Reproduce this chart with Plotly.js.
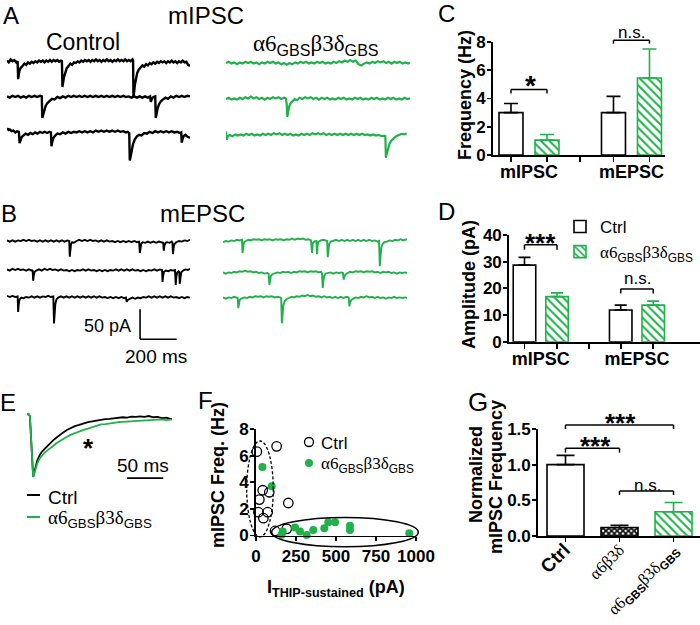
<!DOCTYPE html>
<html><head><meta charset="utf-8">
<script src="https://cdn.plot.ly/plotly-3.0.1.min.js"></script>
<style>html,body{margin:0;padding:0;background:#fff}#chart{width:700px;height:625px}</style>
</head><body><div id="chart"></div>
<script>
// ================= DATA =================
// Panel A (mIPSC traces): [time ms, current pA relative to row baseline]
const aCtrl1 = [[0,4],[10,1],[20,6],[30,3],[40,5],[50,1],[58,3],[61,-27],[64,-20],[68,-13],[75,-8],[85,-5],[95,-1],[105,-3],[115,1],[125,-1],[135,2],[145,0],[155,3],[165,1],[175,4],[185,2],[195,4],[205,1],[215,4],[225,2],[235,5],[245,2],[255,5],[265,3],[275,5],[285,2],[295,4],[300,3],[303,-40],[306,-34],[311,-24],[318,-15],[326,-9],[336,-5],[346,-1],[356,-3],[366,1],[376,0],[386,3],[396,1],[406,4],[416,2],[426,5],[436,3],[446,5],[456,2],[466,5],[476,3],[486,6],[496,3],[506,5],[516,2],[526,5],[536,3],[546,6],[556,3],[566,5],[576,2],[586,5],[596,3],[606,6],[616,3],[626,5],[636,3],[646,6],[656,3],[666,5],[676,3],[686,6],[689,4],[691,-57],[694,-50],[699,-36],[705,-24],[712,-16],[720,-11],[730,-7],[740,-4],[750,-6],[760,-2],[770,-4],[780,0],[790,-2],[800,1],[810,-1],[820,2],[830,0],[840,3],[850,1],[860,3],[870,0],[880,3],[890,1],[900,4],[910,1],[920,3],[930,0],[940,3],[950,1],[960,4],[970,1],[980,2],[990,-3],[1000,-5]];
const aCtrl2 = [[0,1],[15,-1],[30,2],[45,0],[60,2],[75,-1],[90,1],[105,-1],[120,2],[135,0],[150,2],[165,0],[180,2],[190,1],[193,-35],[197,-30],[203,-22],[211,-15],[221,-10],[233,-6],[246,-3],[260,-4],[275,0],[290,-2],[305,1],[320,-1],[335,2],[350,0],[365,2],[380,0],[395,2],[410,0],[425,2],[440,0],[455,2],[470,0],[485,2],[500,0],[515,2],[530,0],[545,2],[560,0],[575,2],[590,0],[605,2],[620,0],[635,2],[650,0],[665,1],[680,-1],[695,1],[710,-1],[725,1],[740,-1],[755,1],[770,-1],[782,1],[786,-8],[792,-3],[800,0],[810,1],[813,-35],[817,-28],[823,-19],[831,-12],[841,-7],[853,-4],[866,-1],[880,-3],[895,1],[910,-1],[925,2],[940,0],[955,2],[970,0],[985,2],[1000,1]];
const aCtrl3 = [[0,8],[8,5],[15,6],[25,3],[35,4],[45,1],[55,3],[65,2],[69,-17],[73,-12],[80,-7],[90,-4],[102,-1],[115,-3],[128,0],[141,-2],[154,1],[167,-1],[180,2],[193,0],[206,2],[219,0],[232,2],[240,1],[243,-22],[247,-15],[254,-8],[264,-4],[276,-1],[290,-2],[305,1],[320,-1],[335,2],[350,0],[365,2],[380,1],[395,3],[410,1],[425,3],[440,1],[455,3],[470,1],[485,4],[500,2],[515,4],[530,2],[545,4],[560,2],[575,4],[590,2],[605,4],[620,2],[635,3],[650,1],[660,2],[668,0],[671,-46],[675,-40],[681,-28],[689,-18],[698,-11],[709,-6],[721,-3],[735,-4],[750,0],[765,-1],[780,2],[795,0],[810,3],[825,1],[840,3],[855,1],[870,3],[885,1],[900,3],[915,1],[930,2],[945,0],[952,1],[955,-16],[959,-10],[966,-5],[975,-3],[985,-6],[1000,-8]];
const aGbs1 = [[0,0],[15,2],[30,-1],[45,1],[60,-2],[75,1],[90,-1],[105,2],[120,0],[135,2],[150,-1],[165,1],[180,-2],[195,1],[210,-1],[225,2],[240,0],[255,2],[270,-1],[285,1],[300,-2],[315,0],[330,-3],[345,0],[360,-2],[375,1],[390,-1],[405,2],[420,0],[435,2],[450,-1],[465,1],[480,-1],[495,2],[510,0],[525,2],[540,-1],[555,1],[570,-1],[585,2],[600,0],[615,3],[630,1],[645,4],[660,2],[675,5],[690,2],[705,4],[720,-2],[735,-4],[750,-1],[765,1],[780,-1],[795,2],[810,0],[825,3],[840,1],[855,3],[870,0],[885,2],[900,-1],[915,2],[930,0],[945,2],[960,-1],[975,1],[990,-1],[1000,1]];
const aGbs2 = [[0,0],[15,2],[30,-1],[45,1],[60,-1],[75,2],[90,0],[105,3],[120,1],[135,4],[150,1],[165,3],[180,0],[195,2],[210,-1],[225,2],[240,0],[255,3],[270,1],[285,3],[300,0],[315,2],[325,1],[330,-8],[333,-30],[337,-22],[343,-13],[351,-7],[361,-3],[373,0],[386,-2],[400,2],[415,0],[430,3],[445,1],[460,3],[475,0],[490,2],[505,-1],[520,2],[535,0],[550,2],[565,-1],[580,1],[595,-1],[610,2],[625,0],[640,2],[655,-1],[670,1],[685,-1],[700,2],[715,0],[730,2],[745,-1],[760,1],[775,-1],[790,2],[805,0],[820,2],[835,-1],[850,1],[865,-1],[880,2],[895,0],[910,2],[925,-1],[940,1],[955,-1],[970,2],[985,0],[1000,1]];
const aGbs3 = [[0,6],[4,-8],[10,-2],[20,0],[35,-2],[50,1],[65,-1],[80,1],[95,-1],[110,2],[125,0],[140,2],[155,-1],[170,1],[185,-1],[200,2],[215,0],[230,2],[245,0],[260,3],[275,1],[290,3],[305,0],[320,2],[335,0],[350,2],[365,-1],[380,1],[395,-1],[410,2],[425,0],[440,2],[455,0],[470,3],[485,1],[500,3],[515,1],[530,3],[545,0],[560,2],[575,0],[590,2],[605,0],[620,2],[635,0],[650,2],[665,0],[680,2],[695,0],[710,2],[725,0],[740,2],[755,0],[770,1],[785,-1],[800,1],[815,-1],[830,0],[845,-2],[860,-1],[866,-2],[869,-38],[873,-32],[879,-23],[887,-16],[897,-10],[910,-6],[925,-2],[940,0],[955,2],[970,1],[982,3]];
// Panel B (mEPSC traces)
const bCtrl1 = [[0,1],[15,-1],[30,1],[45,-1],[60,1],[75,0],[90,2],[105,0],[120,2],[135,0],[150,1],[165,-1],[180,1],[195,-1],[210,1],[225,-1],[240,1],[255,-1],[270,1],[285,-1],[300,1],[315,-1],[330,1],[340,0],[343,-26],[346,-14],[350,-5],[356,-2],[365,-3],[380,0],[395,2],[410,0],[425,2],[440,0],[455,2],[470,0],[485,1],[500,-1],[515,1],[530,-1],[545,1],[560,-1],[575,0],[590,-2],[605,0],[620,-2],[635,0],[650,-2],[665,0],[680,-2],[695,0],[710,-2],[722,-1],[726,-20],[729,-10],[734,-4],[742,-2],[755,-3],[770,-1],[785,-3],[800,-1],[815,-3],[830,-1],[845,-2],[853,-3],[857,-16],[860,-8],[866,-3],[875,-2],[888,-3],[900,-1],[904,-3],[907,-22],[910,-12],[915,-5],[925,-2],[940,0],[955,-1],[970,1],[985,0],[1000,2]];
const bCtrl2 = [[0,1],[15,-1],[30,2],[45,0],[60,2],[75,0],[90,1],[105,-1],[120,1],[135,-1],[140,0],[143,-18],[146,-9],[151,-3],[160,-1],[175,1],[190,-1],[205,2],[220,0],[235,2],[250,0],[265,1],[280,-1],[295,1],[310,-1],[325,0],[340,-2],[355,0],[370,-2],[385,0],[400,-1],[415,1],[430,-1],[445,1],[460,-1],[475,0],[490,-2],[505,0],[520,-2],[535,0],[550,-2],[565,0],[580,-1],[595,1],[610,-1],[625,1],[640,-1],[655,1],[670,-1],[685,1],[700,-1],[715,0],[730,-2],[745,0],[760,-2],[775,0],[790,-1],[805,1],[820,-1],[835,1],[847,0],[850,-20],[853,-10],[858,-3],[868,-1],[882,-2],[895,0],[908,-1],[918,0],[922,-25],[925,-12],[930,-4],[937,-2],[941,-3],[944,-23],[947,-11],[952,-4],[962,-1],[975,1],[988,0],[1000,2]];
const bCtrl3 = [[0,2],[15,0],[30,2],[45,0],[58,1],[61,-25],[64,-12],[69,-4],[78,-1],[90,-2],[105,0],[120,-1],[135,1],[150,-1],[165,1],[180,-1],[195,1],[210,0],[225,2],[240,0],[253,1],[257,-44],[260,-30],[264,-12],[270,-4],[280,-1],[295,1],[310,-1],[325,1],[340,-1],[355,1],[370,-1],[385,1],[400,-1],[415,1],[430,-1],[445,1],[460,-1],[475,1],[490,-1],[505,1],[520,-1],[535,0],[550,-2],[565,0],[580,-2],[595,0],[610,-2],[625,0],[640,-2],[650,-1],[654,-8],[660,-5],[670,-3],[685,-1],[700,-3],[715,-1],[730,-2],[745,0],[760,-1],[775,1],[790,-1],[805,1],[820,-1],[835,1],[850,-1],[865,1],[880,-1],[895,1],[910,-1],[925,0],[940,-2],[955,0],[970,-2],[985,0],[1000,-1]];
const bGbs1 = [[0,-2],[15,0],[30,-1],[45,1],[60,0],[75,2],[90,1],[103,2],[106,-20],[109,-9],[114,-2],[124,0],[138,2],[152,1],[166,3],[180,2],[195,3],[210,1],[225,3],[240,2],[255,3],[270,1],[285,3],[300,2],[315,3],[330,1],[345,3],[360,2],[375,4],[390,2],[405,4],[420,3],[435,4],[450,2],[465,3],[478,1],[484,-20],[488,-4],[495,-1],[508,0],[511,-22],[514,-6],[520,-1],[532,1],[545,2],[558,1],[566,0],[569,-27],[572,-14],[577,-5],[586,-1],[600,0],[615,2],[630,0],[645,2],[660,0],[675,2],[690,0],[705,2],[720,0],[735,2],[750,0],[765,2],[780,0],[795,2],[810,0],[825,1],[840,-1],[848,0],[852,-42],[855,-28],[860,-12],[867,-5],[877,-2],[890,-1],[905,1],[920,0],[935,2],[950,1],[965,3],[980,1],[995,3],[1000,3]];
const bGbs2 = [[0,1],[15,-1],[30,1],[45,0],[60,2],[75,1],[90,3],[105,2],[120,4],[135,2],[150,3],[165,1],[180,2],[195,0],[210,1],[225,-1],[240,0],[248,-1],[252,-20],[255,-12],[260,-5],[268,-2],[280,-1],[295,1],[310,0],[325,2],[340,1],[355,2],[370,0],[385,2],[400,1],[415,3],[430,2],[445,3],[460,1],[475,3],[490,2],[505,3],[520,1],[533,2],[538,0],[542,-25],[545,-14],[550,-5],[558,-1],[570,0],[585,1],[600,-1],[615,1],[630,0],[645,1],[652,0],[656,-11],[660,-6],[667,-2],[678,0],[690,2],[705,1],[720,3],[735,2],[750,3],[765,1],[780,3],[795,2],[810,3],[825,1],[840,2],[855,0],[870,2],[885,1],[900,2],[915,0],[930,1],[945,-1],[960,1],[975,0],[990,1],[1000,0]];
const bGbs3 = [[0,1],[15,-1],[30,1],[45,0],[60,2],[75,1],[80,0],[83,-17],[86,-9],[91,-3],[100,-1],[115,1],[130,0],[145,2],[160,1],[175,3],[190,2],[205,3],[220,1],[235,3],[250,2],[265,3],[280,1],[295,2],[310,1],[316,0],[320,-42],[323,-28],[328,-12],[335,-5],[345,-2],[358,0],[372,2],[386,1],[400,3],[415,2],[430,4],[445,3],[460,5],[475,3],[490,4],[505,2],[520,3],[535,1],[550,3],[565,1],[580,2],[595,0],[610,2],[625,0],[640,2],[655,0],[670,2],[683,1],[687,-14],[691,-7],[698,-3],[708,-1],[720,1],[735,0],[750,2],[765,1],[780,3],[795,1],[810,2],[825,0],[840,2],[855,0],[870,1],[885,-1],[900,1],[915,0],[930,2],[945,0],[960,1],[975,0],[990,1],[1000,0]];
const scaleBarPA = 50, scaleBarMs = 200;
// Panel E: averaged normalized mIPSC [ms, normalized amplitude]
const eCtrl = [[0,0.01],[2,0.02],[4,-0.02],[6,-0.5],[8.5,-1.0],[10,-0.93],[12,-0.82],[14,-0.74],[17,-0.66],[20,-0.6],[24,-0.55],[28,-0.5],[32,-0.46],[36,-0.41],[40,-0.37],[45,-0.32],[50,-0.28],[55,-0.24],[60,-0.21],[66,-0.18],[72,-0.16],[78,-0.135],[84,-0.115],[90,-0.1],[96,-0.085],[102,-0.075],[108,-0.065],[114,-0.06],[120,-0.05],[126,-0.05],[132,-0.035],[138,-0.04],[144,-0.025],[150,-0.03],[156,-0.02],[162,-0.03],[168,-0.015],[174,-0.035],[180,-0.03],[186,-0.05],[192,-0.04],[198,-0.06],[200,-0.06]];
const eGbs = [[0,0.01],[2,0.02],[4,-0.02],[6,-0.5],[8.5,-1.0],[10,-0.95],[12,-0.86],[14,-0.79],[17,-0.71],[20,-0.66],[24,-0.61],[28,-0.57],[32,-0.54],[36,-0.5],[40,-0.46],[45,-0.42],[50,-0.38],[55,-0.35],[60,-0.32],[66,-0.29],[72,-0.27],[78,-0.24],[84,-0.22],[90,-0.2],[96,-0.17],[102,-0.15],[108,-0.145],[114,-0.13],[120,-0.125],[126,-0.115],[132,-0.11],[138,-0.1],[144,-0.095],[150,-0.09],[156,-0.085],[162,-0.08],[168,-0.075],[174,-0.07],[180,-0.075],[186,-0.07],[192,-0.08],[198,-0.075],[200,-0.07]];
const scaleBarE = 50;
// Panel C: frequency (Hz)
const barCats = ['mIPSC', 'mEPSC'];
const freqCtrl = [3.0, 3.0];
const freqCtrlErr = [0.65, 1.15];
const freqGbs = [1.05, 5.45];
const freqGbsErr = [0.4, 2.05];
// Panel D: amplitude (pA)
const ampCtrl = [28.7, 11.9];
const ampCtrlErr = [2.9, 1.8];
const ampGbs = [16.9, 13.7];
const ampGbsErr = [1.4, 1.5];
// Panel F: I_THIP-sustained (pA) vs mIPSC freq (Hz)
const fCtrlI = [5, 129, 42, 83, 21, 202, 15, 73, 46, 119, 192];
const fCtrlF = [6.3, 6.7, 3.4, 3.25, 2.7, 2.44, 1.75, 1.75, 1.3, 0.34, 0.5];
const fGbsI = [40, 98, 167, 160, 244, 275, 317, 358, 427, 452, 494, 587, 587, 958];
const fGbsF = [5.15, 3.7, 0.3, 0.06, 0.6, 0.3, 0.04, 0.42, 0.55, 1.0, 1.0, 0.74, 0.42, 0.17];
const dashedEllipseI = [-58, 108], dashedEllipseF = [-0.1, 7.1];
const solidEllipseI = [98, 1014], solidEllipseF = [-0.85, 1.35];
// Panel G: normalized mIPSC frequency
const normCats = ['Ctrl', 'a6b3d', 'a6GBSb3dGBS'];
const normVals = [1.0, 0.12, 0.34];
const normErr = [0.13, 0.03, 0.13];

// ================= STYLE / LAYOUT =================
const W = 700, H = 625;
const BLACK = '#000000', GREEN = '#1fb24a';
const SANS = 'Liberation Sans, Arial, sans-serif';
const SERIFSPAN = "font-family:'Liberation Serif'";
const SANSSPAN = "font-family:'Liberation Sans'";
function gbsLabel(boldSub) {
  const s = boldSub ? '<b>GBS</b>' : 'GBS';
  return '<span style="' + SERIFSPAN + '">α6</span><sub><span style="' + SANSSPAN + '">' + s + '</span></sub>' +
         '<span style="' + SERIFSPAN + '">β3δ</span><sub><span style="' + SANSSPAN + '">' + s + '</span></sub>';
}
const xd = (a, b) => [a / W, b / W];
const yd = (top, bottom) => [1 - bottom / H, 1 - top / H];
const BOLD = (size) => ({family: SANS, size: size, color: BLACK, weight: 'bold'});
const REG = (size) => ({family: SANS, size: size, color: BLACK});

const layout = {
  width: W, height: H, margin: {l: 0, r: 0, t: 0, b: 0},
  paper_bgcolor: 'white', plot_bgcolor: 'rgba(0,0,0,0)',
  font: {family: SANS, color: BLACK}, barmode: 'overlay', showlegend: true,
  annotations: [], shapes: [],
  legend2: {x: 560 / W, y: 1 - 209 / H, xanchor: 'left', yanchor: 'top', bgcolor: 'rgba(0,0,0,0)',
            font: REG(17), itemwidth: 30, tracegroupgap: 0, traceorder: 'normal'}
};
const hidden = (o) => Object.assign({visible: false, fixedrange: true, showgrid: false, zeroline: false}, o);
const axKey = (n) => n.replace(/^([xy])/, '$1axis');
const data = [];

// ---- Panels A & B traces ----
const rowRange = [-75, 15]; // pA; 0.6 px per pA
layout.xaxis = hidden({domain: xd(7, 190), range: [0, 1000], anchor: 'y'});
layout.xaxis2 = hidden({domain: xd(226, 410), range: [0, 1000], anchor: 'y4'});
layout.xaxis3 = hidden({domain: xd(223, 407), range: [0, 1000], anchor: 'y10'});
const traceRows = [
  {d: aCtrl1, xa: 'x', ya: 'y', base: 63, color: BLACK, w: 2.4},
  {d: aCtrl2, xa: 'x', ya: 'y2', base: 97, color: BLACK, w: 2.4},
  {d: aCtrl3, xa: 'x', ya: 'y3', base: 133, color: BLACK, w: 2.4},
  {d: aGbs1, xa: 'x2', ya: 'y4', base: 63, color: GREEN, w: 2.2},
  {d: aGbs2, xa: 'x2', ya: 'y5', base: 99, color: GREEN, w: 2.2},
  {d: aGbs3, xa: 'x2', ya: 'y6', base: 135, color: GREEN, w: 2.2},
  {d: bCtrl1, xa: 'x', ya: 'y7', base: 241, color: BLACK, w: 1.9},
  {d: bCtrl2, xa: 'x', ya: 'y8', base: 270, color: BLACK, w: 1.9},
  {d: bCtrl3, xa: 'x', ya: 'y9', base: 297, color: BLACK, w: 1.9},
  {d: bGbs1, xa: 'x3', ya: 'y10', base: 241, color: GREEN, w: 1.9},
  {d: bGbs2, xa: 'x3', ya: 'y11', base: 273, color: GREEN, w: 1.9},
  {d: bGbs3, xa: 'x3', ya: 'y12', base: 298, color: GREEN, w: 1.9}
];
traceRows.forEach(r => {
  layout[axKey(r.ya)] = hidden({domain: yd(r.base - 9, r.base + 45), range: rowRange, anchor: r.xa});
  data.push({type: 'scatter', mode: 'lines', x: r.d.map(p => p[0]), y: r.d.map(p => p[1]),
    xaxis: r.xa, yaxis: r.ya, line: {color: r.color, width: r.w}, showlegend: false, hoverinfo: 'skip'});
});
// scale bar (50 pA / 200 ms) on the black traces' axes, bottom row
const sbX = 727, sbY = -70.5;
layout.shapes.push({type: 'line', xref: 'x', yref: 'y9', x0: sbX, x1: sbX, y0: sbY, y1: sbY + scaleBarPA, line: {color: BLACK, width: 1.6}});
layout.shapes.push({type: 'line', xref: 'x', yref: 'y9', x0: sbX, x1: sbX + scaleBarMs, y0: sbY, y1: sbY, line: {color: BLACK, width: 1.6}});

// ---- Panel E ----
layout.xaxis4 = hidden({domain: xd(27, 172), range: [0, 200], anchor: 'y13'});
layout.yaxis13 = hidden({domain: yd(412, 480), range: [-1.05, 0.05], anchor: 'x4'});
data.push({type: 'scatter', mode: 'lines', x: eCtrl.map(p => p[0]), y: eCtrl.map(p => p[1]), xaxis: 'x4', yaxis: 'y13', line: {color: BLACK, width: 1.8}, showlegend: false});
data.push({type: 'scatter', mode: 'lines', x: eGbs.map(p => p[0]), y: eGbs.map(p => p[1]), xaxis: 'x4', yaxis: 'y13', line: {color: GREEN, width: 1.8}, showlegend: false});
layout.shapes.push({type: 'line', xref: 'x4', yref: 'y13', x0: 138, x1: 138 + scaleBarE, y0: -1.02, y1: -1.02, line: {color: BLACK, width: 1.6}});

// ---- bar axis helpers ----
function barY(domain, range, tickvals, fmt) {
  return {domain: domain, range: range, showline: true, linecolor: BLACK, linewidth: 1.8, ticks: 'outside', ticklen: 4, tickwidth: 1.8,
    tickcolor: BLACK, tickmode: 'array', tickvals: tickvals, tickformat: fmt || '', tickfont: BOLD(17), ticklabelstandoff: -2,
    showgrid: false, zeroline: false, fixedrange: true};
}
function groupedBars(xa, ya, ctrl, ctrlErr, gbs, gbsErr, geom, legendOn, capW) {
  const idx = barCats.map((c, i) => i);
  data.push({type: 'bar', x: idx, y: ctrl, xaxis: xa, yaxis: ya, width: geom.w, offset: -geom.s - geom.w / 2,
    marker: {color: 'white', line: {color: BLACK, width: 1.6}},
    error_y: {type: 'data', symmetric: false, array: ctrlErr, arrayminus: ctrl.map(() => 0), color: BLACK, thickness: 1.6, width: capW},
    name: 'Ctrl', legend: 'legend2', showlegend: legendOn, hoverinfo: 'skip'});
  data.push({type: 'bar', x: idx, y: gbs, xaxis: xa, yaxis: ya, width: geom.w, offset: geom.s - geom.w / 2,
    marker: {color: 'white', pattern: {shape: '\\', fgcolor: GREEN, bgcolor: 'white', size: 6, solidity: 0.35, fillmode: 'replace'}, line: {color: GREEN, width: 1.6}},
    error_y: {type: 'data', symmetric: false, array: gbsErr, arrayminus: gbs.map(() => 0), color: GREEN, thickness: 1.6, width: capW},
    name: gbsLabel(false), legend: 'legend2', showlegend: legendOn, hoverinfo: 'skip'});
}
function barX(domain, range, anchor, geom) {
  const idx = barCats.map((c, i) => i);
  const minorVals = [];
  idx.forEach(i => { minorVals.push(i - geom.s, i + geom.s); if (i < idx.length - 1) minorVals.push(i + 0.5); });
  return {domain: domain, range: range, anchor: anchor, showline: true, linecolor: BLACK, linewidth: 1.8,
    tickmode: 'array', tickvals: idx, ticktext: barCats, ticks: '', tickfont: BOLD(18),
    minor: {tickmode: 'array', tickvals: minorVals, ticks: 'outside', ticklen: 5, tickwidth: 1.8, tickcolor: BLACK, showgrid: false},
    showgrid: false, zeroline: false, fixedrange: true};
}
function frac(v, range) { return (v - range[0]) / (range[1] - range[0]); }
function bracket(xa, ya, yrange, x0, x1, yTop, yLeg) {
  const yr = ya + ' domain', st = {color: BLACK, width: 1.5};
  const t = frac(yTop, yrange), l = frac(yLeg, yrange);
  layout.shapes.push({type: 'line', xref: xa, yref: yr, x0: x0, x1: x1, y0: t, y1: t, line: st});
  layout.shapes.push({type: 'line', xref: xa, yref: yr, x0: x0, x1: x0, y0: t, y1: l, line: st});
  layout.shapes.push({type: 'line', xref: xa, yref: yr, x0: x1, x1: x1, y0: t, y1: l, line: st});
}

// ---- Panel C ----
const geomC = {w: 0.234, s: 0.1756};
const rangeCy = [0, 8];
layout.xaxis5 = barX(xd(493, 665), [-0.351, 1.327], 'y14', geomC);
layout.yaxis14 = Object.assign(barY(yd(42, 155), rangeCy, [0, 2, 4, 6, 8]), {anchor: 'x5'});
groupedBars('x5', 'y14', freqCtrl, freqCtrlErr, freqGbs, freqGbsErr, geomC, false, 7);
bracket('x5', 'y14', rangeCy, -geomC.s, geomC.s, 4.64, 4.36);
bracket('x5', 'y14', rangeCy, 1 - geomC.s, 1 + geomC.s, 8.12, 7.88);

// ---- Panel D ----
const geomD = {w: 0.234, s: 0.169};
const rangeDy = [0, 40];
layout.xaxis6 = barX(xd(509, 700), [-0.33, 1.655], 'y15', geomD);
layout.yaxis15 = Object.assign(barY(yd(235, 341.7), rangeDy, [0, 10, 20, 30, 40]), {anchor: 'x6'});
groupedBars('x6', 'y15', ampCtrl, ampCtrlErr, ampGbs, ampGbsErr, geomD, true, 6);
bracket('x6', 'y15', rangeDy, -geomD.s, geomD.s, 36.3, 34.5);
bracket('x6', 'y15', rangeDy, 1 - geomD.s, 1 + geomD.s, 19.8, 18.1);

// ---- Panel F ----
const rangeFx = [0, 1000], rangeFy = [0, 8];
layout.xaxis7 = {domain: xd(256, 416), range: rangeFx, anchor: 'y16', showline: true, linecolor: BLACK, linewidth: 1.8,
  ticks: 'outside', ticklen: 4, tickwidth: 1.8, tickcolor: BLACK, tickmode: 'array', tickvals: [0, 250, 500, 750, 1000],
  tickfont: BOLD(17), showgrid: false, zeroline: false, fixedrange: true};
layout.yaxis16 = Object.assign(barY(yd(429, 535.5), rangeFy, [0, 2, 4, 6, 8]), {anchor: 'x7'});
data.push({type: 'scatter', mode: 'markers', x: fCtrlI, y: fCtrlF, xaxis: 'x7', yaxis: 'y16', cliponaxis: false,
  marker: {symbol: 'circle-open', size: 9.5, color: BLACK, line: {width: 1.3, color: BLACK}}, showlegend: false});
data.push({type: 'scatter', mode: 'markers', x: fGbsI, y: fGbsF, xaxis: 'x7', yaxis: 'y16', cliponaxis: false,
  marker: {symbol: 'circle', size: 8, color: GREEN}, showlegend: false});
layout.shapes.push({type: 'circle', xref: 'x7 domain', yref: 'y16 domain',
  x0: frac(dashedEllipseI[0], rangeFx), x1: frac(dashedEllipseI[1], rangeFx), y0: frac(dashedEllipseF[0], rangeFy), y1: frac(dashedEllipseF[1], rangeFy),
  line: {color: BLACK, width: 1.3, dash: '3px,2px'}});
layout.shapes.push({type: 'circle', xref: 'x7 domain', yref: 'y16 domain',
  x0: frac(solidEllipseI[0], rangeFx), x1: frac(solidEllipseI[1], rangeFx), y0: frac(solidEllipseF[0], rangeFy), y1: frac(solidEllipseF[1], rangeFy),
  line: {color: BLACK, width: 1.5}});

// ---- Panel G ----
const rangeGy = [0, 1.5];
const normLabels = ['<span style="font-size:19px"><b>Ctrl</b></span>', '<span style="' + SERIFSPAN + '">α6β3δ</span>', gbsLabel(true)];
layout.xaxis8 = {domain: xd(538, 700), range: [-0.509, 2.49], anchor: 'y17', type: 'category', categoryorder: 'array', categoryarray: normCats,
  showline: true, linecolor: BLACK, linewidth: 1.8, ticks: 'outside', ticklen: 4, tickwidth: 1.8, tickcolor: BLACK,
  tickmode: 'array', tickvals: normCats, ticktext: normLabels, tickangle: -45, tickfont: REG(16.5), ticklabelstandoff: -8,
  showgrid: false, zeroline: false, fixedrange: true};
layout.yaxis17 = Object.assign(barY(yd(429, 536), rangeGy, [0, 0.5, 1, 1.5], '.1f'), {anchor: 'x8'});
const gStyles = [
  {color: 'white', line: {color: BLACK, width: 1.6}},
  {color: 'white', pattern: {shape: 'x', fgcolor: '#111111', bgcolor: 'white', size: 4, solidity: 0.7, fillmode: 'replace'}, line: {color: BLACK, width: 1.6}},
  {color: 'white', pattern: {shape: '\\', fgcolor: GREEN, bgcolor: 'white', size: 6, solidity: 0.35, fillmode: 'replace'}, line: {color: GREEN, width: 1.6}}
];
const gErrColor = [BLACK, BLACK, GREEN];
normCats.forEach((c, i) => {
  data.push({type: 'bar', x: [c], y: [normVals[i]], xaxis: 'x8', yaxis: 'y17', width: 0.685, offset: -0.3425,
    marker: gStyles[i], error_y: {type: 'data', symmetric: false, array: [normErr[i]], arrayminus: [0], color: gErrColor[i], thickness: 1.6, width: 9},
    showlegend: false, hoverinfo: 'skip'});
});
bracket('x8', 'y17', rangeGy, 0, 2, 1.556, 1.5);
bracket('x8', 'y17', rangeGy, 0, 1, 1.23, 1.17);
bracket('x8', 'y17', rangeGy, 1, 2, 0.63, 0.575);

// ---- text annotations (positions in page pixels) ----
function ann(text, x, y, font, extra) {
  layout.annotations.push(Object.assign({text: text, x: x / W, y: 1 - y / H, xref: 'paper', yref: 'paper', showarrow: false,
    font: font, xanchor: 'center', yanchor: 'middle'}, extra || {}));
}
ann('A', 11, 15, REG(24)); ann('mIPSC', 206, 15, REG(24));
ann('Control', 83, 42, REG(23)); ann(gbsLabel(false), 316, 45, REG(23));
ann('B', 9, 213, REG(24)); ann('mEPSC', 202, 213, REG(24));
ann('50 pA', 107, 326, REG(18)); ann('200 ms', 156, 356, REG(19));
ann('C', 446, 13, REG(24)); ann('D', 446, 212, REG(24));
ann('E', 8, 402, REG(24)); ann('F', 205, 401, REG(24)); ann('G', 478, 402, REG(26));
ann('*', 88, 448, BOLD(26)); ann('50 ms', 143, 465, REG(19));
ann('Ctrl', 46, 497, REG(19), {xanchor: 'left'}); ann(gbsLabel(false), 46, 519, REG(19), {xanchor: 'left'});
layout.shapes.push({type: 'line', xref: 'paper', yref: 'paper', x0: 27 / W, x1: 40 / W, y0: 1 - 495 / H, y1: 1 - 495 / H, line: {color: BLACK, width: 2}});
layout.shapes.push({type: 'line', xref: 'paper', yref: 'paper', x0: 27 / W, x1: 40 / W, y0: 1 - 517 / H, y1: 1 - 517 / H, line: {color: GREEN, width: 2}});
// axis titles
ann('Frequency (Hz)', 465, 95, BOLD(18), {textangle: -90});
ann('Amplitude (pA)', 469, 285, BOLD(18), {textangle: -90});
ann('mIPSC Freq. (Hz)', 218, 475, BOLD(18), {textangle: -90});
ann('I<sub>THIP-sustained</sub> (pA)', 336, 588, BOLD(18));
ann('Normalized', 476, 475, BOLD(18), {textangle: -90});
ann('mIPSC Frequency', 496, 477, BOLD(18), {textangle: -90});
// F legend
ann('Ctrl', 319, 443, REG(17), {xanchor: 'left'}); ann(gbsLabel(false), 319, 465, REG(17), {xanchor: 'left'});
layout.shapes.push({type: 'circle', xref: 'paper', yref: 'paper', x0: 304.5 / W, x1: 313.5 / W, y0: 1 - 446.5 / H, y1: 1 - 437.5 / H, line: {color: BLACK, width: 1.3}});
layout.shapes.push({type: 'circle', xref: 'paper', yref: 'paper', x0: 305 / W, x1: 313 / W, y0: 1 - 467 / H, y1: 1 - 459 / H, fillcolor: GREEN, line: {color: GREEN, width: 0}});
// significance labels
ann('*', 530, 85, BOLD(28)); ann('n.s.', 631, 32, REG(17));
ann('***', 540, 243, BOLD(26)); ann('n.s.', 637, 278, REG(17));
ann('***', 620, 423, BOLD(26)); ann('***', 595, 446, BOLD(26)); ann('n.s.', 647, 485, REG(17));

Plotly.newPlot('chart', data, layout, {staticPlot: true, displayModeBar: false});
</script>
</body></html>
